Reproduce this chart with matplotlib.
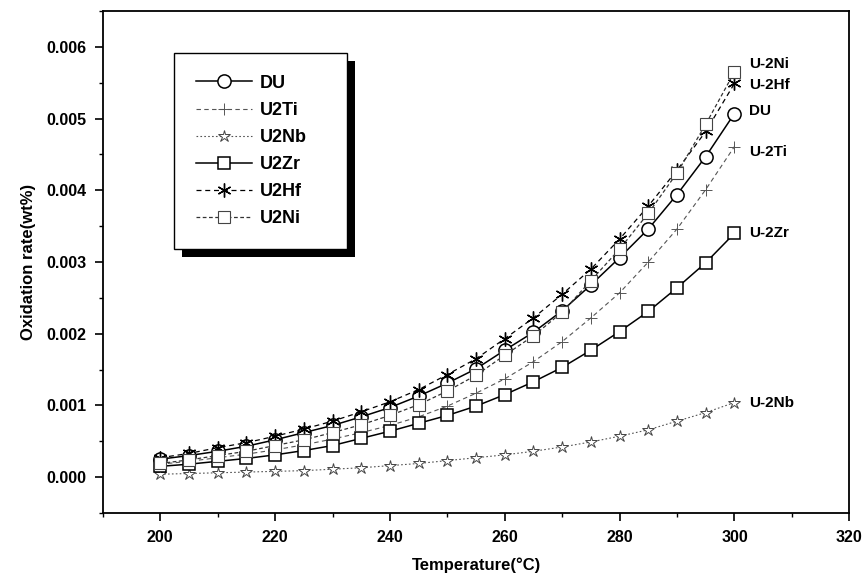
import matplotlib
matplotlib.use("Agg")
import matplotlib.pyplot as plt
from matplotlib.ticker import MultipleLocator, FormatStrFormatter
from matplotlib.patches import Rectangle

plt.rcParams['font.family'] = ['Liberation Sans', 'DejaVu Sans']

temps = [200, 205, 210, 215, 220, 225, 230, 235, 240, 245, 250,
         255, 260, 265, 270, 275, 280, 285, 290, 295, 300]

du = [0.00025, 0.00030, 0.00036, 0.00043, 0.00052, 0.00062, 0.00072, 0.00084, 0.00097, 0.00113, 0.00131,
      0.00151, 0.00177, 0.00202, 0.00232, 0.00268, 0.00306, 0.00346, 0.00394, 0.00447, 0.00507]
u2ti = [0.00018, 0.00022, 0.00027, 0.00032, 0.00038, 0.00045, 0.00053, 0.00062, 0.00072, 0.00084, 0.00099,
        0.00117, 0.00137, 0.00161, 0.00189, 0.00222, 0.00257, 0.00300, 0.00346, 0.00401, 0.00461]
u2nb = [0.00004, 0.00005, 0.00006, 0.00007, 0.00008, 0.00009, 0.00011, 0.00013, 0.00016, 0.00019, 0.00023,
        0.00027, 0.00031, 0.00036, 0.00042, 0.00049, 0.00057, 0.00066, 0.00078, 0.00090, 0.00104]
u2zr = [0.00015, 0.00018, 0.00022, 0.00026, 0.00031, 0.00037, 0.00044, 0.00054, 0.00064, 0.00075, 0.00086,
        0.00099, 0.00115, 0.00133, 0.00153, 0.00177, 0.00203, 0.00231, 0.00264, 0.00299, 0.00340]
u2hf = [0.00027, 0.00033, 0.00041, 0.00048, 0.00057, 0.00067, 0.00078, 0.00091, 0.00105, 0.00122, 0.00143,
        0.00165, 0.00193, 0.00222, 0.00255, 0.00290, 0.00332, 0.00378, 0.00428, 0.00482, 0.00549]
u2ni = [0.00019, 0.00024, 0.00030, 0.00036, 0.00044, 0.00052, 0.00062, 0.00073, 0.00086, 0.00101, 0.00120,
        0.00142, 0.00170, 0.00197, 0.00230, 0.00274, 0.00318, 0.00368, 0.00424, 0.00492, 0.00565]

end_labels = ['U-2Ni', 'U-2Hf', 'DU', 'U-2Ti', 'U-2Zr', 'U-2Nb']
end_label_y = [0.00576, 0.00547, 0.00510, 0.00454, 0.00340, 0.00104]

fig = plt.figure(figsize=(8.64, 5.77), dpi=100)
ax = fig.add_axes([0.119, 0.111, 0.864, 0.870])

ax.plot(temps, du, '-', color='black', lw=1.1, marker='o', ms=9.5, mfc='white', mec='black', mew=1.1, label='DU')
ax.plot(temps, u2ti, color='#555555', lw=0.8, ls=(0, (4, 3)), marker='+', ms=9, mew=0.7, label='U2Ti')
ax.plot(temps, u2nb, color='#555555', lw=0.8, ls=(0, (1.5, 2)), marker='*', ms=9, mfc='white', mec='#444444', mew=0.7, label='U2Nb')
ax.plot(temps, u2zr, '-', color='black', lw=1.1, marker='s', ms=9, mfc='white', mec='black', mew=1.1, label='U2Zr')
ax.plot(temps, u2hf, color='black', lw=0.9, ls=(0, (4, 3)), marker=(6, 2, 0), ms=10, mew=1.0, label='U2Hf')
ax.plot(temps, u2ni, color='#333333', lw=0.9, ls=(0, (3, 2)), marker='s', ms=9, mfc='white', mec='#444444', mew=0.8, label='U2Ni')

for lab, yv in zip(end_labels, end_label_y):
    ax.text(302.5, yv, lab, fontsize=11, fontweight='bold', va='center', ha='left')

ax.set_xlim(190, 320)
ax.set_ylim(-0.0005, 0.0065)
ax.xaxis.set_major_locator(MultipleLocator(20))
ax.xaxis.set_minor_locator(MultipleLocator(10))
ax.yaxis.set_major_locator(MultipleLocator(0.001))
ax.yaxis.set_minor_locator(MultipleLocator(0.0005))
ax.yaxis.set_major_formatter(FormatStrFormatter('%.3f'))
ax.tick_params(which='major', direction='out', length=6, width=1.2, labelsize=11.5, pad=6)
ax.tick_params(which='minor', direction='out', length=3, width=1.0)
for lbl in ax.get_xticklabels() + ax.get_yticklabels():
    lbl.set_fontweight('bold')
for sp in ax.spines.values():
    sp.set_linewidth(1.3)

ax.set_xlabel('Temperature(°C)', fontsize=12, fontweight='bold', labelpad=9)
ax.set_ylabel('Oxidation rate(wt%)', fontsize=12, fontweight='bold', labelpad=7)

leg = ax.legend(loc='upper left', bbox_to_anchor=(0.096, 0.5, 0.231, 0.416), mode='expand',
                fontsize=13, frameon=True, fancybox=False, shadow=False, framealpha=1.0,
                handlelength=3.1, labelspacing=0.56, borderpad=1.2, handletextpad=0.45,
                borderaxespad=0)
leg.get_frame().set_edgecolor('black')
leg.get_frame().set_facecolor('white')
leg.get_frame().set_linewidth(1.0)
leg.set_zorder(10)
for t in leg.get_texts():
    t.set_fontweight('bold')

# solid black drop shadow behind the legend box
fig.canvas.draw()
bb = leg.get_window_extent().transformed(ax.transAxes.inverted())
dx = 8 / ax.bbox.width
dy = 8 / ax.bbox.height
ax.add_patch(Rectangle((bb.x0 + dx, bb.y0 - dy), bb.width, bb.height, transform=ax.transAxes,
                       facecolor='black', edgecolor='none', zorder=9, clip_on=False))

fig.savefig('out.png', dpi=100)
